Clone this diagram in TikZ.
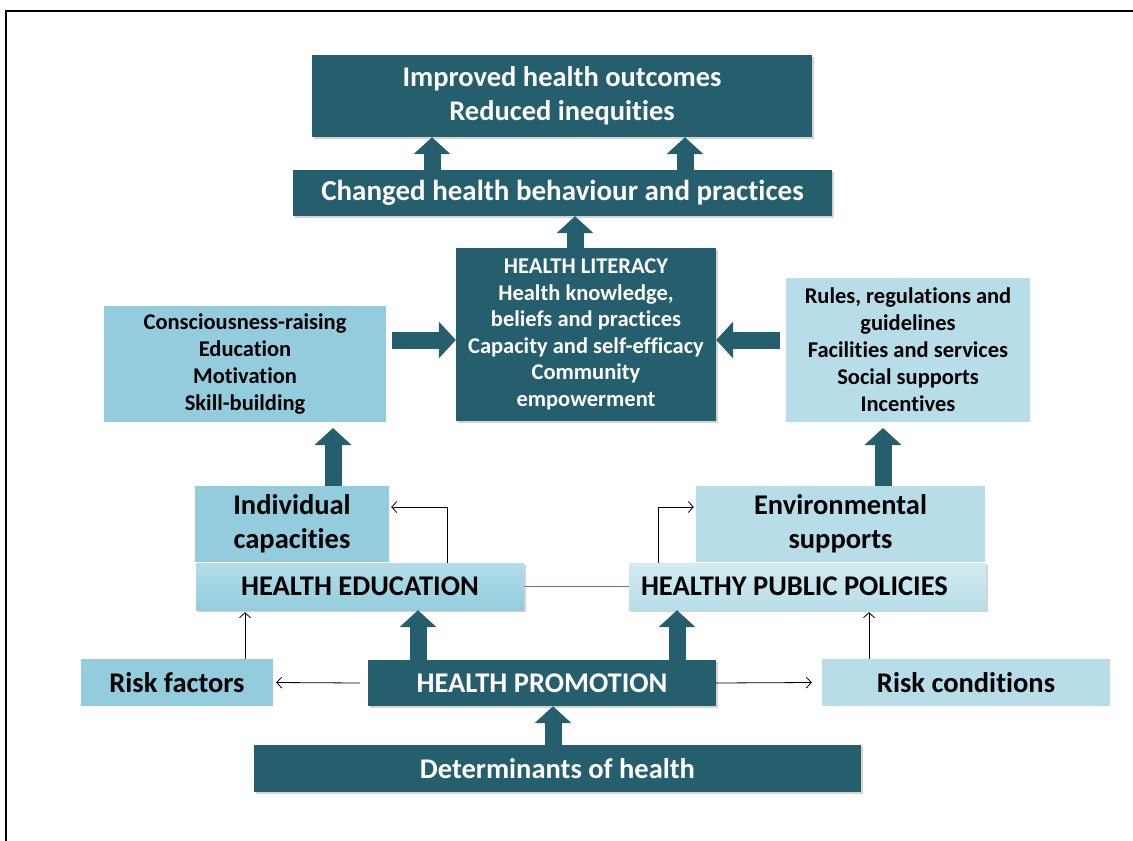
\documentclass[tikz,border=0pt]{standalone}
\usepackage{fontspec}
\setmainfont{Carlito}[Ligatures=NoCommon]
\usepackage{tikz}
\usetikzlibrary{arrows.meta,shadows}
\definecolor{darkTeal}{HTML}{255E6D}
\definecolor{paleA}{HTML}{93CDDD}
\definecolor{paleB}{HTML}{B7DEE8}
\definecolor{lineBlue}{HTML}{4F7BBE}
\providecommand{\hfont}[2]{\fontsize{#1}{#2}\selectfont\bfseries}

\begin{document}
\begin{tikzpicture}[x=1pt,y=-1pt,
    darkbox/.style={rectangle,fill=darkTeal,text=white,align=center,
                    inner sep=0pt,
                    drop shadow={opacity=0.35,shadow xshift=2pt,shadow yshift=-2pt}},
    palebox/.style={rectangle,fill=#1,text=black,align=center,inner sep=0pt},
    framebox/.style={rectangle,fill=#1,draw=white,line width=6pt,text=black,
                     align=center,inner sep=0pt,
                     drop shadow={opacity=0.3,shadow xshift=2pt,shadow yshift=-2pt}},
    fat/.style={draw=darkTeal,line width=17pt,-{Triangle[length=17pt,width=36pt]}},
    thinarr/.style={draw=black,line width=0.8pt,-{Straight Barb[length=5pt,width=11pt]}}
  ]
  \useasboundingbox (0,0) rectangle (1133,841);
  %% Frame (top and left edges only)
  \draw[line width=2pt] (6,841) -- (6,11) -- (1133,11);
  %% Outcomes at the top
  \node[darkbox,minimum width=500,minimum height=82,font=\hfont{28.5}{34}]
    (top) at (562,96) {Improved health outcomes\\Reduced inequities};
  \node[darkbox,minimum width=539,minimum height=46,font=\hfont{29}{32}]
    (chg) at (562.5,193) {Changed health behaviour and practices};
  %% Health literacy and its two inputs
  \node[darkbox,minimum width=260,minimum height=173,font=\hfont{22.5}{26.5}]
    (hl) at (586,334.5) {HEALTH LITERACY\\Health knowledge,\\beliefs and practices\\
      Capacity and self-efficacy\\Community\\empowerment};
  \node[framebox=paleA,minimum width=288,minimum height=122,font=\hfont{22.5}{27}]
    (lbox) at (245,364) {Consciousness-raising\\Education\\Motivation\\Skill-building};
  \node[framebox=paleB,minimum width=250,minimum height=150,font=\hfont{22.5}{27}]
    (rbox) at (908,350) {Rules, regulations and\\guidelines\\Facilities and services\\
      Social supports\\Incentives};
  %% Capacities and supports
  \node[palebox=paleA,minimum width=194,minimum height=76,font=\hfont{28.5}{34}]
    (ind) at (292,524) {Individual\\capacities};
  \node[palebox=paleB,minimum width=289,minimum height=76,font=\hfont{28.5}{34}]
    (env) at (840.5,524) {Environmental\\supports};
  %% The two strategies
  \node[darkbox,top color=paleA!70!white,bottom color=paleA,text=black,
        minimum width=328,minimum height=47,font=\hfont{28.5}{30}]
    (he) at (360,586.5) {HEALTH EDUCATION};
  \node[darkbox,top color=paleB!60!white,bottom color=paleB,text=black,
        text width=333,align=flush left,
        minimum width=357,minimum height=47,font=\hfont{28.5}{30}]
    (hpp) at (807.5,586.5) {HEALTHY PUBLIC POLICIES};
  %% Health promotion row
  \node[darkbox,minimum width=348,minimum height=46,font=\hfont{28.5}{30}]
    (hp) at (542,683) {HEALTH PROMOTION};
  \node[palebox=paleA,minimum width=192,minimum height=47,font=\hfont{28.5}{30}]
    (rf) at (177,682.5) {Risk factors};
  \node[palebox=paleB,minimum width=288,minimum height=47,font=\hfont{28.5}{30}]
    (rc) at (966,682.5) {Risk conditions};
  \node[darkbox,minimum width=607,minimum height=47,font=\hfont{28.5}{30}]
    (det) at (557.5,768.5) {Determinants of health};
  %% Block arrows
  \draw[fat] (chg.north -| 432,0) -- (top.south -| 432,0);
  \draw[fat] (chg.north -| 685,0) -- (top.south -| 685,0);
  \draw[fat] (hl.north -| 575,0) -- (chg.south -| 575,0);
  \draw[fat] (lbox.east |- 0,340) -- (hl.west |- 0,340);
  \draw[fat] (rbox.west |- 0,340) -- (hl.east |- 0,340);
  \draw[fat] (ind.north -| 333,0) -- (lbox.south -| 333,0);
  \draw[fat] (env.north -| 883,0) -- (rbox.south -| 883,0);
  \draw[fat] (hp.north -| 418,0) -- (he.south -| 418,0);
  \draw[fat] (hp.north -| 677,0) -- (hpp.south -| 677,0);
  \draw[fat] (det.north -| 553,0) -- (hp.south -| 553,0);
  %% Thin connectors
  \draw[thinarr] (he.north -| 447,0) |- ([xshift=2pt]ind.east |- 0,507);
  \draw[thinarr] (hpp.north -| 658,0) |- ([xshift=-2pt]env.west |- 0,507);
  \draw[thinarr] ([xshift=-8pt]hp.west) -- ([xshift=3pt]rf.east);
  \draw[thinarr] (hp.east) -- ([xshift=-10pt]rc.west);
  \draw[thinarr] (rf.north -| 245,0) -- ([yshift=-2pt]he.south -| 245,0);
  \draw[thinarr] (rc.north -| 869,0) -- ([yshift=-2pt]hpp.south -| 869,0);
  \draw[lineBlue,line width=0.8pt] (he.east) -- (hpp.west);
\end{tikzpicture}
\end{document}
